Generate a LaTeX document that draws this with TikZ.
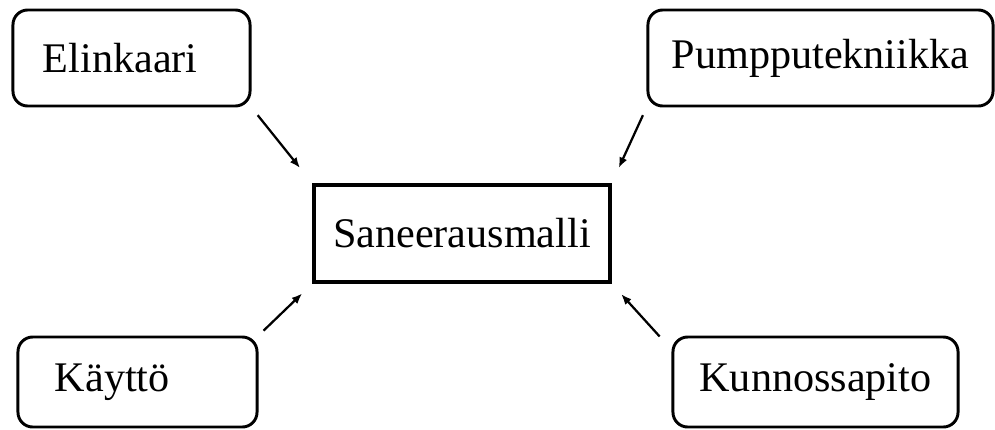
\documentclass[tikz,border=0pt]{standalone}
\usepackage{fontspec}
\setmainfont{Liberation Serif}
\usetikzlibrary{arrows.meta}

\tikzset{
  osa/.style={draw, line width=2.1pt, rounded corners=10.5pt, inner sep=0pt,
    font=\fontsize{30}{36}\selectfont},
  malli/.style={draw, line width=2.4pt, inner sep=0pt,
    font=\fontsize{30}{36}\selectfont},
  nuoli/.style={-{Latex[length=7.5pt,width=6pt]}, line width=1.6pt}
}

\begin{document}
\begin{tikzpicture}[x=0.025cm, y=-0.025cm]
\useasboundingbox (0,0) rectangle (995,429);
\node[malli, minimum width=7.4cm, minimum height=2.425cm] (s) at (462,233.5) {Saneerausmalli};
\node[osa, minimum width=5.925cm, minimum height=2.4cm, align=left, text width=4.425cm, inner xsep=0.75cm] (e) at (131.5,58) {Elinkaari};
\node[osa, minimum width=8.625cm, minimum height=2.4cm] (p) at (820.5,58) {Pumpputekniikka};
\node[osa, minimum width=5.975cm, minimum height=2.25cm, align=left, text width=4.125cm, inner xsep=0.925cm] (k) at (137.5,382) {Käyttö};
\node[osa, minimum width=7.125cm, minimum height=2.25cm] (ku) at (815.5,382) {Kunnossapito};
\draw[nuoli, shorten <=7pt, shorten >=14pt] (e.south east) -- (s.north west);
\draw[nuoli, shorten <=6pt, shorten >=12pt] (p.south west) -- (s.north east);
\draw[nuoli, shorten <=5pt, shorten >=10pt] (k.north east) -- (s.south west);
\draw[nuoli, shorten <=2pt, shorten >=10pt] ([shift={(-10,3)}]ku.north west) -- (s.south east);
\end{tikzpicture}
\end{document}
